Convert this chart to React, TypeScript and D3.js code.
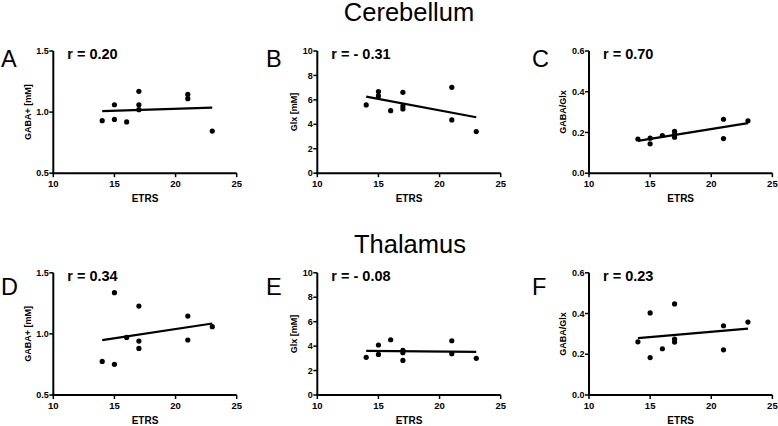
import React from "react";
import * as d3 from "d3";

// ---- data ----
const etrs = [14, 15, 15, 16, 17, 17, 17, 21, 21, 23];
const cerebellumGaba = [0.93, 1.06, 0.94, 0.92, 1.17, 1.06, 1.02, 1.145, 1.11, 0.845];
const cerebellumGlx = [5.59, 6.68, 6.32, 5.12, 6.62, 5.5, 5.26, 7.03, 4.36, 3.41];
const cerebellumRatio = [0.168, 0.172, 0.144, 0.185, 0.206, 0.177, 0.19, 0.265, 0.17, 0.257];
const thalamusGaba = [0.775, 1.337, 0.751, 0.971, 1.228, 0.941, 0.881, 1.146, 0.95, 1.059];
const thalamusGlx = [3.08, 4.09, 3.32, 4.52, 3.65, 3.46, 2.83, 4.44, 3.38, 3.0];
const thalamusRatio = [0.261, 0.403, 0.184, 0.227, 0.447, 0.275, 0.26, 0.34, 0.222, 0.358];

const xTicks = [10, 15, 20, 25];
const gabaTicks = [0.5, 1.0, 1.5];
const glxTicks = [0, 2, 4, 6, 8, 10];
const ratioTicks = [0, 0.2, 0.4, 0.6];

const regionTitles = ["Cerebellum", "Thalamus"];
const panelLetters = ["A", "B", "C", "D", "E", "F"];
const rLabels = ["r = 0.20", "r = - 0.31", "r = 0.70", "r = 0.34", "r = - 0.08", "r = 0.23"];
const yTitles = ["GABA+ [mM]", "Glx [mM]", "GABA/Glx"];
const xTitle = "ETRS";

// ---- layout ----
const W = 778;
const H = 426;
const colX = [53.3, 317.3, 589];
const rowTop = [51, 272.8];
const plotW = 183.4;
const plotH = 122.2;
const letterX = [1, 266, 532];
const letterBase = [67, 295];
const titleBase = [20.5, 252.5];
const titleX = [409, 410];
const yTitleOff = [22.5, 20, 23.5];
const FONT = "'Liberation Sans', Arial, Helvetica, sans-serif";

type Panel = {
  ys: number[];
  ticks: number[];
  fmt: (v: number) => string;
  col: number;
  row: number;
};

const f1 = d3.format(".1f");
const f0 = d3.format("d");

const panels: Panel[] = [
  { ys: cerebellumGaba, ticks: gabaTicks, fmt: f1, col: 0, row: 0 },
  { ys: cerebellumGlx, ticks: glxTicks, fmt: f0, col: 1, row: 0 },
  { ys: cerebellumRatio, ticks: ratioTicks, fmt: f1, col: 2, row: 0 },
  { ys: thalamusGaba, ticks: gabaTicks, fmt: f1, col: 0, row: 1 },
  { ys: thalamusGlx, ticks: glxTicks, fmt: f0, col: 1, row: 1 },
  { ys: thalamusRatio, ticks: ratioTicks, fmt: f1, col: 2, row: 1 },
];

function fit(xs: number[], ys: number[]) {
  const mx = d3.mean(xs)!;
  const my = d3.mean(ys)!;
  let sxy = 0;
  let sxx = 0;
  xs.forEach((x, i) => {
    sxy += (x - mx) * (ys[i] - my);
    sxx += (x - mx) * (x - mx);
  });
  const b = sxy / sxx;
  return (x: number) => my + b * (x - mx);
}

function PanelView({ p, idx }: { p: Panel; idx: number }) {
  const left = colX[p.col];
  const top = rowTop[p.row];
  const x = d3.scaleLinear().domain([xTicks[0], xTicks[xTicks.length - 1]]).range([left, left + plotW]);
  const y = d3
    .scaleLinear()
    .domain([p.ticks[0], p.ticks[p.ticks.length - 1]])
    .range([top + plotH, top]);
  const f = fit(etrs, p.ys);
  const [x0, x1] = d3.extent(etrs) as [number, number];
  const line = d3.line<number>().x((d) => x(d)).y((d) => y(f(d)));
  const bottom = top + plotH;
  return (
    <g>
      {/* axes */}
      <line x1={left} x2={left} y1={top} y2={bottom + 1} stroke="#000" strokeWidth={2} />
      <line x1={left - 1} x2={left + plotW} y1={bottom} y2={bottom} stroke="#000" strokeWidth={2} />
      {p.ticks.map((t) => (
        <g key={"y" + t}>
          <line x1={left - 4} x2={left} y1={y(t)} y2={y(t)} stroke="#000" strokeWidth={1.5} />
          <text
            x={left - 4.5}
            y={y(t)}
            dy="0.35em"
            textAnchor="end"
            fontSize={9}
            fontWeight="bold"
            fontFamily={FONT}
          >
            {p.fmt(t)}
          </text>
        </g>
      ))}
      {xTicks.map((t) => (
        <g key={"x" + t}>
          <line x1={x(t)} x2={x(t)} y1={bottom} y2={bottom + 4} stroke="#000" strokeWidth={1.5} />
          <text x={x(t)} y={bottom + 14} textAnchor="middle" fontSize={9.5} fontWeight="bold" fontFamily={FONT}>
            {t}
          </text>
        </g>
      ))}
      <text
        x={left + plotW / 2}
        y={bottom + 28.5}
        textAnchor="middle"
        fontSize={10}
        fontWeight="bold"
        fontFamily={FONT}
      >
        {xTitle}
      </text>
      <text
        transform={`translate(${left - yTitleOff[p.col]},${top + plotH / 2}) rotate(-90)`}
        textAnchor="middle"
        fontSize={9}
        fontWeight="bold"
        fontFamily={FONT}
      >
        {yTitles[p.col]}
      </text>
      {/* regression line */}
      <path d={line([x0, x1]) || ""} fill="none" stroke="#000" strokeWidth={2.2} />
      {/* points */}
      {p.ys.map((v, i) => (
        <circle key={i} cx={x(etrs[i])} cy={y(v)} r={2.6} fill="#000" />
      ))}
      <text x={left + 14} y={top + 8.3} fontSize={14.5} fontWeight="bold" fontFamily={FONT}>
        {rLabels[idx]}
      </text>
      <text x={letterX[p.col]} y={letterBase[p.row]} fontSize={23.5} fontFamily={FONT}>
        {panelLetters[idx]}
      </text>
    </g>
  );
}

export default function App() {
  return (
    <svg
      width={W}
      height={H}
      style={{ position: "absolute", left: 0, top: 0, background: "#fff" }}
    >
      <rect width={W} height={H} fill="#fff" />
      {regionTitles.map((t, i) => (
        <text key={t} x={titleX[i]} y={titleBase[i]} textAnchor="middle" fontSize={25.5} fontFamily={FONT}>
          {t}
        </text>
      ))}
      {panels.map((p, i) => (
        <PanelView key={i} p={p} idx={i} />
      ))}
    </svg>
  );
}
